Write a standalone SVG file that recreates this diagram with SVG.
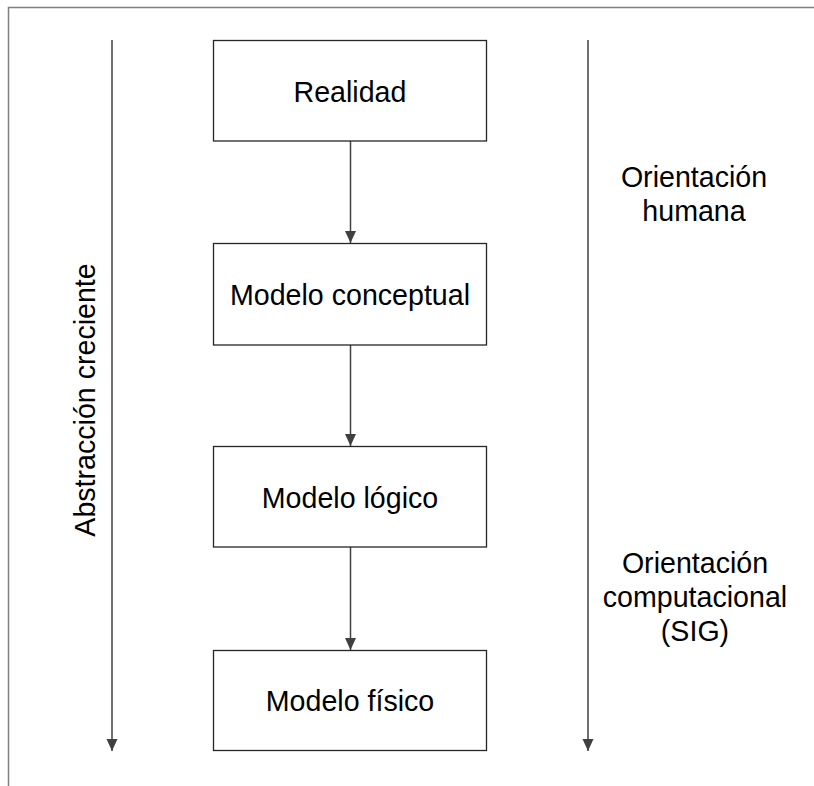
<svg xmlns="http://www.w3.org/2000/svg" width="814" height="786" viewBox="0 0 814 786">
  <style>
    .frame { stroke: #808080; stroke-width: 1.5; fill: none; }
    .box { fill: #ffffff; stroke: #262626; stroke-width: 1.3; }
    .conn { stroke: #404040; stroke-width: 1.5; fill: none; marker-end: url(#head); }
    .lbl { font-family: "Liberation Sans", Arial, sans-serif; font-size: 28.6px; fill: #000000; text-anchor: middle; }
  </style>
  <defs>
    <marker id="head" markerUnits="userSpaceOnUse" markerWidth="12" markerHeight="14" refX="12" refY="5.5" orient="auto" viewBox="0 0 12 11">
      <path d="M0,0 L12,5.5 L0,11 Z" fill="#404040"/>
    </marker>
  </defs>

  <rect width="814" height="786" fill="#ffffff"/>

  <!-- partial page frame: top and left edges -->
  <path class="frame" d="M8.5,786 L8.5,7.5 L814,7.5"/>

  <!-- side scales and main flow -->
  <g id="connectors">
    <line class="conn" x1="112" y1="40" x2="112" y2="751"/>
    <line class="conn" x1="588" y1="40" x2="588" y2="751"/>
    <line class="conn" x1="350.5" y1="141" x2="350.5" y2="243"/>
    <line class="conn" x1="350.5" y1="345" x2="350.5" y2="446"/>
    <line class="conn" x1="350.5" y1="547" x2="350.5" y2="650"/>
  </g>

  <g id="realidad">
    <rect class="box" x="213.5" y="40.5" width="273" height="100.5"/>
    <text class="lbl" x="350" y="102">Realidad</text>
  </g>

  <g id="modelo-conceptual">
    <rect class="box" x="213.5" y="243.5" width="273" height="101.5"/>
    <text class="lbl" x="350" y="304.5">Modelo conceptual</text>
  </g>

  <g id="modelo-logico">
    <rect class="box" x="213.5" y="446.5" width="273" height="100.5"/>
    <text class="lbl" x="350" y="507.5">Modelo lógico</text>
  </g>

  <g id="modelo-fisico">
    <rect class="box" x="213.5" y="650.5" width="273" height="100"/>
    <text class="lbl" x="350" y="710.5">Modelo físico</text>
  </g>

  <g id="abstraccion">
    <text class="lbl" transform="translate(95,400) rotate(-90)">Abstracción creciente</text>
  </g>

  <g id="orientacion-humana">
    <text class="lbl" x="694" y="187">Orientación</text>
    <text class="lbl" x="694" y="221">humana</text>
  </g>

  <g id="orientacion-computacional">
    <text class="lbl" x="695" y="573">Orientación</text>
    <text class="lbl" x="695" y="607">computacional</text>
    <text class="lbl" x="695" y="641">(SIG)</text>
  </g>
</svg>
